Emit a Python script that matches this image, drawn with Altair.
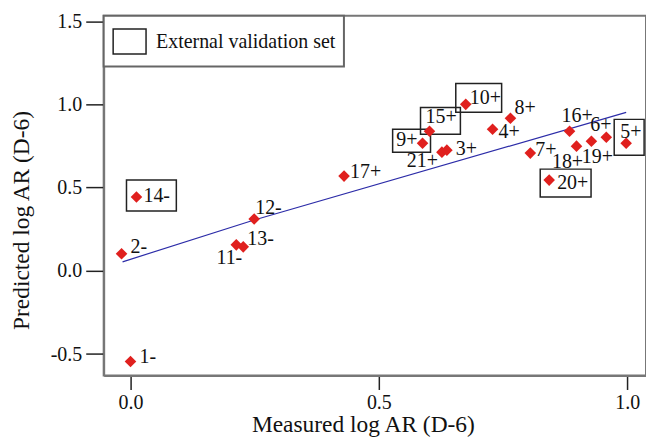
import altair as alt
import pandas as pd

# Compounds: measured vs predicted log AR (D-6)
ids = ["1-", "2-", "11-", "12-", "13-", "14-", "17+", "9+", "15+", "10+", "21+",
       "3+", "4+", "8+", "7+", "20+", "16+", "18+", "19+", "6+", "5+"]
measured = [0.000, -0.018, 0.213, 0.249, 0.227, 0.012, 0.430, 0.588, 0.602, 0.675, 0.627,
            0.637, 0.729, 0.765, 0.805, 0.843, 0.884, 0.898, 0.928, 0.958, 0.998]
predicted = [-0.545, 0.102, 0.156, 0.311, 0.144, 0.443, 0.569, 0.766, 0.838, 1.000, 0.713,
             0.725, 0.850, 0.916, 0.707, 0.545, 0.838, 0.749, 0.778, 0.802, 0.766]
external = ["14-", "9+", "15+", "10+", "20+", "5+"]

# Fitted trend line
fit_x = [-0.016, 0.249, 0.998]
fit_y = [0.054, 0.305, 0.952]

x_ticks = [0.0, 0.5, 1.0]
y_ticks = [-0.5, 0.0, 0.5, 1.0, 1.5]

# Label placement (pixel offset from the marker, text alignment)
label_place = {
    "1-": (9, -5, "left"), "2-": (9, -7, "left"), "14-": (7, -1, "left"),
    "12-": (1, -11, "left"), "11-": (6, 13, "right"), "13-": (4, -8, "left"),
    "17+": (6, -4, "left"), "9+": (-5, -3, "right"), "15+": (-4, -14, "left"),
    "10+": (4, -6, "left"), "21+": (-4, 9, "right"), "3+": (9, -1, "left"),
    "4+": (6, 3, "left"), "8+": (4, -10, "left"), "7+": (5, -3, "left"),
    "20+": (8, 3, "left"), "16+": (-8, -15, "left"), "18+": (-9, 16, "center"),
    "19+": (6, 16, "center"), "6+": (-16, -12, "left"), "5+": (-6, -11, "left"),
}
# Frame around each external-set compound (left, right, top, bottom pixel pads)
frame_pad = {
    "10+": (-10, 36, -21, 8), "15+": (-9, 31, -24, 3), "9+": (-30, 8, -14, 9),
    "20+": (-9, 42, -11, 17), "5+": (-12, 18, -24, 12), "14-": (-10, 40, -17, 14),
}

W, H = 544, 361
PX_PER_X = 498.2
X_DOM = [-0.054, -0.054 + W / PX_PER_X]
Y_DOM = [-0.629, 1.533]
ux = (X_DOM[1] - X_DOM[0]) / W
uy = (Y_DOM[1] - Y_DOM[0]) / H

FONT = "Liberation Serif"

pts = pd.DataFrame({"id": ids, "x": measured, "y": predicted})
pts["align"] = [label_place[i][2] for i in ids]
pts["lx"] = [x + label_place[i][0] * ux for i, x in zip(ids, measured)]
pts["ly"] = [y - label_place[i][1] * uy for i, y in zip(ids, predicted)]

ext = pts[pts["id"].isin(external)].copy()
ext["set"] = "External validation set"
ext["bx1"] = [x + frame_pad[i][0] * ux for i, x in zip(ext["id"], ext["x"])]
ext["bx2"] = [x + frame_pad[i][1] * ux for i, x in zip(ext["id"], ext["x"])]
ext["by1"] = [y - frame_pad[i][2] * uy for i, y in zip(ext["id"], ext["y"])]
ext["by2"] = [y - frame_pad[i][3] * uy for i, y in zip(ext["id"], ext["y"])]

fit = pd.DataFrame({"x": fit_x, "y": fit_y})

xs = alt.Scale(domain=X_DOM, nice=False, zero=False)
ys = alt.Scale(domain=Y_DOM, nice=False, zero=False)

x_axis = alt.Axis(
    values=x_ticks, format=".1f", title="Measured log AR (D-6)",
    tickSize=14, labelPadding=3, grid=False,
    titleX=260, titleY=56, titleAlign="center", titleBaseline="alphabetic",
)
y_axis = alt.Axis(
    values=y_ticks, title="Predicted log AR (D-6)", tickSize=18, labelPadding=4, grid=False,
    labelExpr="replace(format(datum.value, '.1f'), '\u2212', '-')",
    titleAngle=270, titleX=-75, titleY=205, titleAlign="center", titleBaseline="alphabetic",
)

base = alt.Chart(pts)

frames = alt.Chart(ext).mark_rect(filled=False, strokeWidth=1.5).encode(
    x=alt.X("bx1:Q", scale=xs, axis=x_axis),
    x2="bx2:Q",
    y=alt.Y("by1:Q", scale=ys, axis=y_axis),
    y2="by2:Q",
    stroke=alt.Stroke(
        "set:N",
        scale=alt.Scale(range=["#222222"]),
        legend=alt.Legend(
            title=None, orient="none", legendX=0, legendY=0,
            symbolType="M-1,-0.76H1V0.76H-1Z", symbolSize=1089,
            symbolStrokeWidth=1.5, symbolFillColor="white",
            labelOffset=9, padding=8.5,
        ),
    ),
)

line = alt.Chart(fit).mark_line(color="#2c2ca8", strokeWidth=1.2).encode(
    x=alt.X("x:Q", scale=xs), y=alt.Y("y:Q", scale=ys)
)

markers = base.mark_point(shape="diamond", filled=True, size=135, color="#e0201e", opacity=1).encode(
    x=alt.X("x:Q", scale=xs), y=alt.Y("y:Q", scale=ys)
)

def labels(al):
    return base.transform_filter(alt.datum.align == al).mark_text(
        align=al, baseline="middle", font=FONT, fontSize=20, color="#111111"
    ).encode(x=alt.X("lx:Q", scale=xs), y=alt.Y("ly:Q", scale=ys), text="id:N")

chart = alt.layer(
    frames, line, markers, labels("left"), labels("right"), labels("center")
).properties(
    width=W, height=H,
    autosize=alt.AutoSizeParams(type="none"),
    padding={"left": 104, "top": 15, "right": 0, "bottom": 61},
).configure_view(
    stroke="#777777", strokeWidth=2
).configure_axis(
    domainColor="#777777", domainWidth=2, tickColor="#222222", tickWidth=1.5,
    labelFont=FONT, labelFontSize=20, labelColor="#111111",
    titleFont=FONT, titleFontSize=23.5, titleFontWeight="normal", titleColor="#111111",
).configure_legend(
    strokeColor="#666666", strokeWidth=2, fillColor="white",
    labelFont=FONT, labelFontSize=20, labelColor="#111111", labelLimit=400,
)

chart.save("out.html", embed_options={"renderer": "svg", "actions": False})
